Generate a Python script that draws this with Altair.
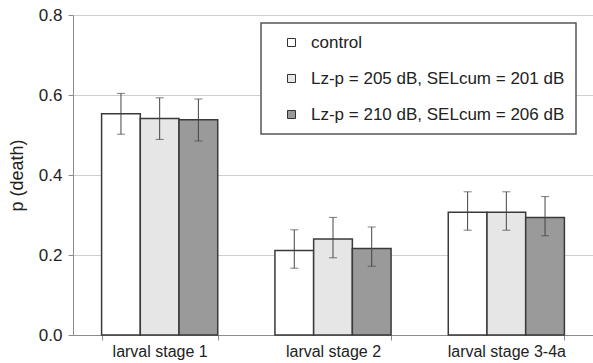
import altair as alt
import pandas as pd

stages = ["larval stage 1", "larval stage 2", "larval stage 3-4a"]
groups = ["control", "Lz-p = 205 dB, SELcum = 201 dB", "Lz-p = 210 dB, SELcum = 206 dB"]
colors = ["#ffffff", "#e6e6e6", "#9a9a9a"]

p_control = [0.553, 0.211, 0.307]
p_205 = [0.541, 0.240, 0.307]
p_210 = [0.538, 0.216, 0.294]

lo_control = [0.502, 0.167, 0.262]
hi_control = [0.604, 0.263, 0.358]
lo_205 = [0.489, 0.193, 0.262]
hi_205 = [0.593, 0.294, 0.358]
lo_210 = [0.485, 0.172, 0.248]
hi_210 = [0.590, 0.270, 0.346]

rows = []
for g, ps, los, his in [
    (groups[0], p_control, lo_control, hi_control),
    (groups[1], p_205, lo_205, hi_205),
    (groups[2], p_210, lo_210, hi_210),
]:
    for s, p, lo, hi in zip(stages, ps, los, his):
        rows.append({"stage": s, "group": g, "p": p, "lo": lo, "hi": hi})
df = pd.DataFrame(rows)

x_enc = alt.X(
    "stage:N",
    sort=stages,
    scale=alt.Scale(paddingInner=0.33, paddingOuter=0.165),
    axis=alt.Axis(
        title=None,
        labelAngle=0,
        labelFontSize=16,
        labelColor="#222222",
        domainColor="#8c8c8c",
        tickColor="#8c8c8c",
        tickBand="extent",
        tickSize=5,
        labelPadding=3,
        grid=False,
    ),
)
xoff_enc = alt.XOffset("group:N", sort=groups, scale=alt.Scale(paddingInner=0, paddingOuter=0))
y_scale = alt.Scale(domain=[0, 0.8])

base = alt.Chart(df).encode(x=x_enc, xOffset=xoff_enc)

bars = base.mark_bar(stroke="#3a3a3a", strokeWidth=1.5).encode(
    y=alt.Y(
        "p:Q",
        scale=y_scale,
        axis=alt.Axis(
            values=[0, 0.2, 0.4, 0.6, 0.8],
            format=".1f",
            grid=True,
            gridColor="#cfcfcf",
            domainColor="#8c8c8c",
            tickColor="#8c8c8c",
            tickSize=5,
            labelPadding=6,
            labelFontSize=17,
            labelColor="#222222",
            title="p (death)",
            titleFontSize=18,
            titleFontWeight="normal",
            titleColor="#222222",
            titlePadding=12,
        ),
    ),
    fill=alt.Fill(
        "group:N",
        sort=groups,
        scale=alt.Scale(domain=groups, range=colors),
        legend=alt.Legend(
            orient="none",
            legendX=188,
            legendY=8,
            title=None,
            padding=11,
            rowPadding=18,
            symbolType="square",
            symbolSize=64,
            symbolStrokeColor="#333333",
            symbolStrokeWidth=1,
            symbolOffset=11,
            labelOffset=11,
            labelFontSize=17,
            labelLimit=400,
            labelColor="#222222",
            fillColor="#ffffff",
            strokeColor="#555555",
            cornerRadius=0,
        ),
    ),
)

rules = base.mark_rule(color="#444444", strokeWidth=1).encode(
    y=alt.Y("lo:Q", scale=y_scale), y2="hi:Q"
)
caps_hi = base.mark_tick(color="#444444", size=8, thickness=1).encode(
    y=alt.Y("hi:Q", scale=y_scale)
)
caps_lo = base.mark_tick(color="#444444", size=8, thickness=1).encode(
    y=alt.Y("lo:Q", scale=y_scale)
)

chart = (
    alt.layer(bars, rules, caps_hi, caps_lo)
    .properties(
        width=520,
        height=320,
        autosize=alt.AutoSizeParams(type="none"),
        padding={"left": 73, "top": 15, "right": 0, "bottom": 28},
    )
    .configure(font="Liberation Sans")
    .configure_view(stroke=None)
    .configure_legend(strokeWidth=1.5)
)

chart.save("out.html", embed_options={"renderer": "svg", "actions": False})
